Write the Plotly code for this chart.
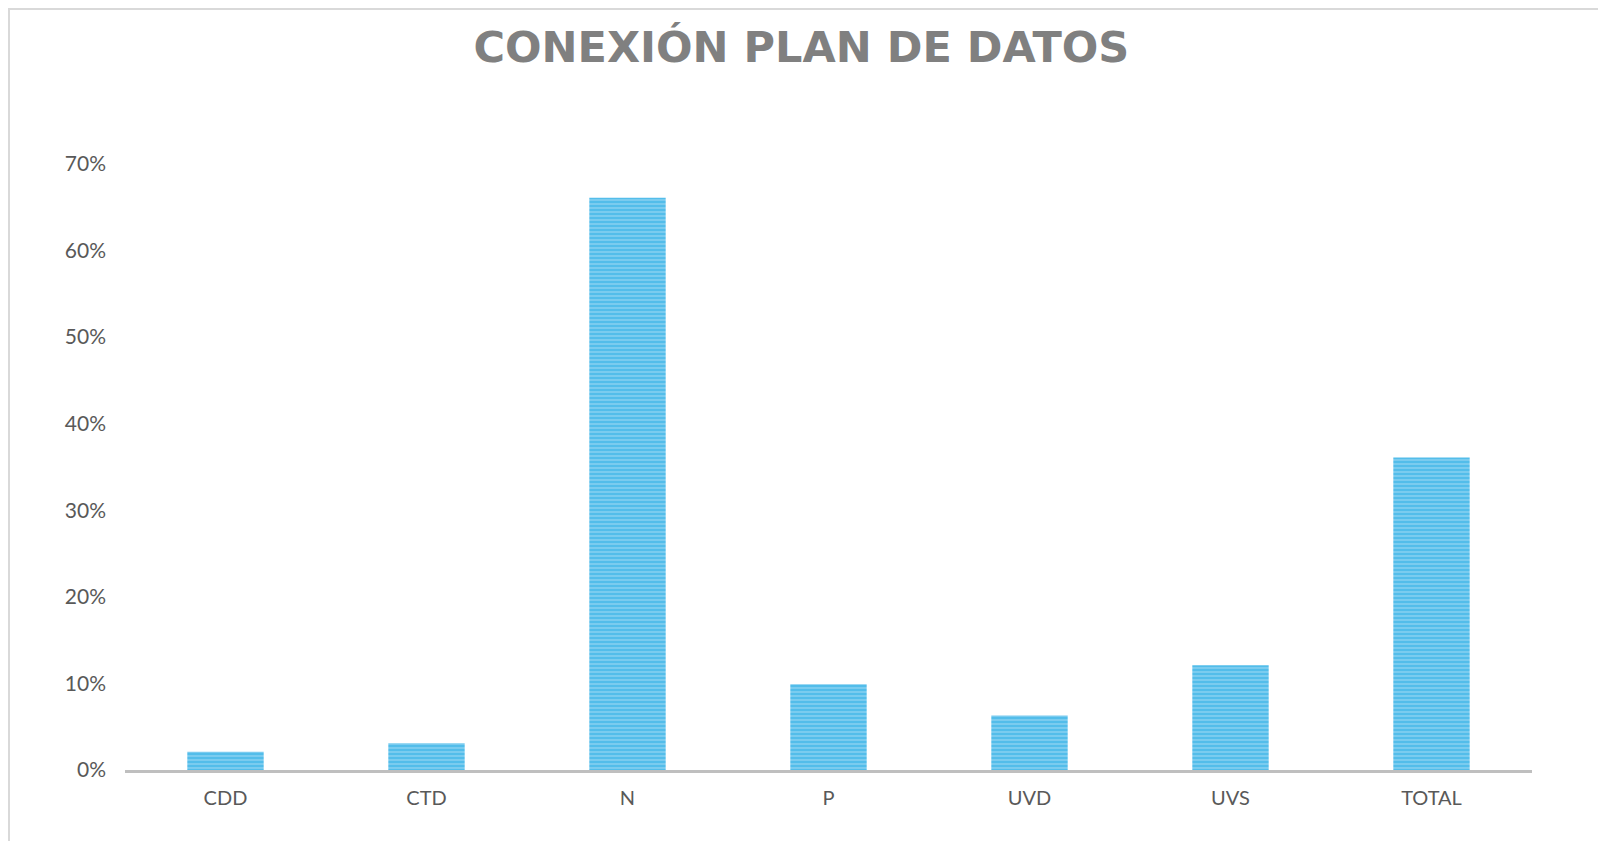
import plotly.graph_objects as go

categories = ['CDD', 'CTD', 'N', 'P', 'UVD', 'UVS', 'TOTAL']
values = [0.021, 0.031, 0.661, 0.099, 0.063, 0.121, 0.361]
y_ticks = [0, 0.1, 0.2, 0.3, 0.4, 0.5, 0.6, 0.7]

fig = go.Figure()

fig.add_trace(go.Bar(
    x=categories,
    y=values,
    marker=dict(
        color='#93D4F2',
        line_width=0,
        pattern=dict(shape='-', fgcolor='#14A6E1', size=4, solidity=0.7),
    ),
    hovertemplate='%{x}: %{y:.0%}<extra></extra>',
))

fig.update_layout(
    width=1606,
    height=841,
    title=dict(
        text='<b>CONEXIÓN PLAN DE DATOS</b>',
        x=0.494,
        xanchor='center',
        y=0.954,
        yanchor='middle',
        font=dict(family='DejaVu Sans', size=43, color='#808080'),
    ),
    font=dict(family='Lato', size=20, color='#595959'),
    plot_bgcolor='white',
    paper_bgcolor='white',
    bargap=0.62,
    showlegend=False,
    margin=dict(l=117, r=82, t=156, b=79),
)

fig.update_yaxes(
    range=[0, 0.7],
    tickvals=y_ticks,
    tickformat='.0%',
    tickfont_size=21,
    showgrid=False,
    zeroline=False,
    ticks='',
    ticklabelstandoff=18,
)
fig.update_xaxes(
    showline=True,
    linecolor='#BFBFBF',
    linewidth=3,
    ticks='',
    ticklabelstandoff=8,
)

# light frame around the chart area
fig.add_shape(
    type='rect', xref='paper', yref='paper',
    x0=-116 / 1407, x1=1 + 78 / 1407, y0=-75 / 606, y1=1 + 155 / 606,
    line=dict(color='#D9D9D9', width=2), fillcolor='rgba(0,0,0,0)',
)

fig.write_html('out.html')
